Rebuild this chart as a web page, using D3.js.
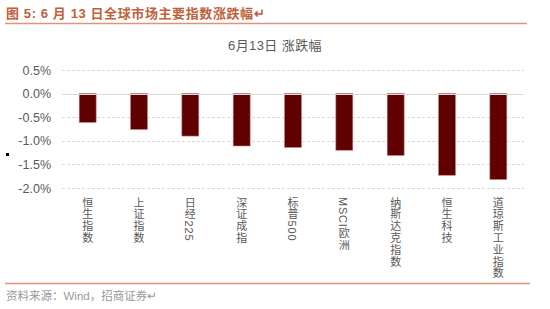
<!DOCTYPE html>
<html>
<head>
<meta charset="utf-8">
<script src="https://cdn.jsdelivr.net/npm/d3@7"></script>
<style>
  body { margin: 0; background: #fff; }
  text { font-family: "Liberation Sans", Arial, "Noto Sans CJK SC", sans-serif; }
</style>
</head>
<body>
<svg id="chart" width="550" height="309"></svg>
<script>
// data
const categories = ['恒生指数', '上证指数', '日经225', '深证成指', '标普500', 'MSCI欧洲', '纳斯达克指数', '恒生科技', '道琼斯工业指数'];
const changes = [-0.61, -0.76, -0.90, -1.11, -1.14, -1.20, -1.31, -1.73, -1.82];
const yTicks = [0.5, 0.0, -0.5, -1.0, -1.5, -2.0];

const svg = d3.select('#chart');
const margin = { top: 70, bottom: 188, left: 62, right: 524 };

// figure header
svg.append('text')
  .attr('x', 6).attr('y', 18)
  .attr('fill', '#C0603A')
  .attr('font-size', 13)
  .attr('font-weight', 'bold')
  .attr('letter-spacing', 0.6)
  .attr('font-family', '"Liberation Sans", "Noto Sans CJK SC", sans-serif')
  .text('图 5:  6 月 13 日全球市场主要指数涨跌幅↵');

svg.append('line')
  .attr('x1', 5).attr('x2', 527).attr('y1', 23.5).attr('y2', 23.5)
  .attr('stroke', '#E0937A').attr('stroke-width', 1.5);

// chart title
svg.append('text')
  .attr('x', 275).attr('y', 50)
  .attr('text-anchor', 'middle')
  .attr('fill', '#595959')
  .attr('font-size', 13)
  .attr('letter-spacing', 0.4)
  .text('6月13日 涨跌幅');

const x = d3.scaleBand()
  .domain(categories)
  .range([margin.left, margin.right])
  .paddingInner(0.67)
  .paddingOuter(0.335);

const y = d3.scaleLinear()
  .domain([-2.0, 0.5])
  .range([margin.bottom, margin.top]);

// grid lines
svg.append('g')
  .selectAll('line')
  .data(yTicks.filter(d => d !== 0))
  .enter()
  .append('line')
  .attr('x1', margin.left).attr('x2', margin.right)
  .attr('y1', d => Math.round(y(d)) + 0.5).attr('y2', d => Math.round(y(d)) + 0.5)
  .attr('stroke', '#D9D9D9')
  .attr('stroke-dasharray', '3,2');

// y axis labels
const yAxis = d3.axisLeft(y)
  .tickValues(yTicks)
  .tickSize(0)
  .tickPadding(0)
  .tickFormat(d => d.toFixed(1) + '%');

const gy = svg.append('g')
  .attr('transform', 'translate(51,0)')
  .call(yAxis);
gy.select('.domain').remove();
gy.selectAll('text')
  .attr('fill', '#595959')
  .attr('font-size', 12.5)
  .attr('font-family', '"Liberation Sans", Arial, sans-serif');

// bars
svg.selectAll('.bar')
  .data(changes)
  .enter()
  .append('rect')
  .attr('x', (d, i) => x(categories[i]))
  .attr('y', y(0))
  .attr('width', x.bandwidth())
  .attr('height', d => y(d) - y(0))
  .attr('fill', '#600000')
  .attr('stroke', '#C08080')
  .attr('stroke-width', 0.6);

// zero line
svg.append('line')
  .attr('x1', margin.left).attr('x2', margin.right)
  .attr('y1', Math.round(y(0)) + 0.5).attr('y2', Math.round(y(0)) + 0.5)
  .attr('stroke', '#D9D9D9')
  .attr('stroke-width', 1);

// vertical category labels
svg.append('g')
  .selectAll('text')
  .data(categories)
  .enter()
  .append('text')
  .attr('x', d => x(d) + x.bandwidth() / 2 - 1)
  .attr('y', 197)
  .attr('fill', '#595959')
  .attr('font-size', 11)
  .attr('letter-spacing', 0.8)
  .style('writing-mode', 'vertical-rl')
  .style('text-orientation', 'mixed')
  .attr('font-family', '"Liberation Sans", "Noto Sans CJK SC", sans-serif')
  .text(d => d);

// stray legend marker
svg.append('rect')
  .attr('x', 6).attr('y', 153)
  .attr('width', 3).attr('height', 3)
  .attr('fill', '#000');

// footer
svg.append('line')
  .attr('x1', 5).attr('x2', 530).attr('y1', 283.5).attr('y2', 283.5)
  .attr('stroke', '#E0937A').attr('stroke-width', 1.5);

svg.append('text')
  .attr('x', 6).attr('y', 300)
  .attr('fill', '#999999')
  .attr('font-size', 11.5)
  .attr('font-family', '"Liberation Sans", "Noto Sans CJK SC", sans-serif')
  .text('资料来源：Wind，招商证券↵');
</script>
</body>
</html>
